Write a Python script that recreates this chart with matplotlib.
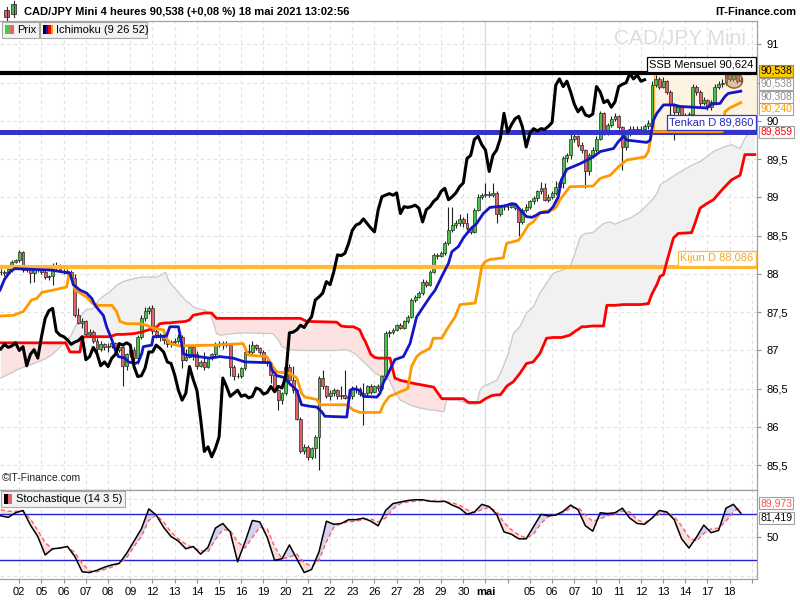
import numpy as np
import matplotlib
matplotlib.use("Agg")
import matplotlib.pyplot as plt
from matplotlib.patches import Rectangle, Ellipse

plt.rcParams['font.family'] = ['Liberation Sans', 'DejaVu Sans']

# ---------------- DATA ----------------
first_open = 88.02
closes = [88.03, 88.01, 88.06, 88.16, 88.18, 88.29, 88.05, 88.06, 88.01, 88.06,
          88.07, 88.02, 87.96, 87.97, 88.10, 88.12, 88.04, 88.03, 88.03, 87.95,
          87.47, 87.36, 87.38, 87.22, 87.24, 87.12, 87.02, 87.08, 87.04, 87.06,
          87.10, 87.00, 87.05, 86.80, 86.95, 87.01, 86.90, 87.18, 87.42, 87.52,
          87.55, 87.25, 87.20, 87.18, 87.14, 87.08, 87.11, 87.13, 87.18, 86.88,
          86.92, 87.04, 86.96, 86.80, 86.85, 86.79, 86.90, 86.95, 87.09, 87.07,
          87.10, 87.07, 86.79, 86.66, 86.67, 86.77, 86.98, 86.98, 87.07, 87.03,
          86.98, 86.85, 86.83, 86.68, 86.48, 86.35, 86.44, 86.79, 86.62, 86.48,
          86.11, 85.68, 85.74, 85.61, 85.72, 85.87, 86.64, 86.53, 86.40, 86.44,
          86.48, 86.40, 86.42, 86.38, 86.40, 86.51, 86.49, 86.43, 86.45, 86.53,
          86.46, 86.53, 86.51, 86.66, 87.23, 87.24, 87.27, 87.33, 87.30, 87.38,
          87.44, 87.66, 87.70, 87.75, 87.90, 87.86, 88.03, 88.25, 88.24, 88.27,
          88.40, 88.57, 88.64, 88.66, 88.72, 88.66, 88.60, 88.55, 88.84, 89.01,
          89.03, 89.05, 89.03, 89.06, 88.79, 88.88, 88.87, 88.88, 88.90, 88.86,
          88.68, 88.84, 88.88, 88.95, 88.99, 89.08, 89.12, 88.97, 89.01, 89.06,
          89.14, 89.19, 89.51, 89.55, 89.76, 89.80, 89.69, 89.62, 89.34, 89.55,
          89.62, 89.77, 90.10, 89.85, 89.95, 90.03, 90.06, 89.92, 89.66, 89.84,
          89.90, 89.87, 89.90, 89.89, 89.93, 89.98, 90.47, 90.55, 90.45, 90.52,
          90.38, 90.22, 90.12, 90.18, 90.08, 90.06, 90.09, 90.45, 90.38, 90.24,
          90.27, 90.18, 90.25, 90.45, 90.48, 90.50, 90.62, 90.55, 90.60, 90.52,
          90.538]
highs = [88.06, 88.05, 88.08, 88.18, 88.20, 88.31, 88.30, 88.10, 88.07, 88.08,
         88.10, 88.08, 88.09, 87.99, 88.14, 88.15, 88.13, 88.07, 88.06, 88.05,
         88.00, 87.55, 87.42, 87.40, 87.28, 87.27, 87.16, 87.12, 87.10, 87.10,
         87.13, 87.11, 87.08, 87.06, 86.97, 87.04, 87.04, 87.20, 87.47, 87.57,
         87.58, 87.59, 87.28, 87.23, 87.20, 87.17, 87.14, 87.16, 87.21, 87.20,
         87.02, 87.06, 87.07, 86.99, 86.87, 86.98, 86.92, 86.97, 87.11, 87.13,
         87.12, 87.12, 87.09, 86.81, 86.70, 86.79, 87.00, 87.09, 87.12, 87.08,
         87.05, 87.00, 86.88, 86.85, 86.70, 86.50, 86.46, 86.92, 86.82, 86.80,
         86.50, 86.13, 85.78, 85.76, 85.74, 85.90, 86.66, 86.75, 86.55, 86.48,
         86.51, 86.50, 86.53, 86.75, 86.44, 86.53, 86.55, 86.52, 86.57, 86.55,
         86.56, 86.55, 86.56, 86.68, 87.25, 87.27, 87.30, 87.35, 87.36, 87.40,
         87.46, 87.68, 87.73, 87.78, 87.93, 87.92, 88.05, 88.28, 88.28, 88.30,
         88.43, 88.88, 88.88, 88.70, 88.79, 88.74, 88.80, 88.63, 88.86, 89.04,
         89.06, 89.19, 89.08, 89.19, 89.08, 88.90, 88.92, 88.91, 88.93, 88.92,
         88.88, 88.86, 88.91, 88.97, 89.02, 89.10, 89.20, 89.19, 89.04, 89.09,
         89.21, 89.22, 89.54, 89.58, 89.86, 89.86, 89.82, 89.72, 89.64, 89.58,
         89.66, 89.80, 90.13, 90.12, 89.98, 90.06, 90.10, 90.08, 89.94, 89.87,
         89.93, 89.93, 89.93, 89.93, 89.96, 90.01, 90.52, 90.60, 90.57, 90.58,
         90.54, 90.40, 90.24, 90.21, 90.20, 90.11, 90.12, 90.48, 90.47, 90.40,
         90.31, 90.29, 90.28, 90.48, 90.52, 90.55, 90.66, 90.65, 90.64, 90.63,
         90.57]
lows = [87.99, 87.98, 88.00, 88.02, 88.14, 88.16, 88.02, 88.02, 87.88, 87.90,
        88.03, 88.00, 87.94, 87.92, 87.86, 88.05, 88.02, 88.00, 88.00, 87.93,
        87.44, 87.34, 87.30, 87.19, 87.18, 87.10, 86.98, 86.99, 87.00, 86.98,
        87.03, 86.96, 86.98, 86.53, 86.75, 86.92, 86.86, 86.82, 87.15, 87.38,
        87.48, 87.22, 87.16, 87.12, 87.08, 87.04, 87.05, 87.07, 87.10, 86.77,
        86.86, 86.90, 86.87, 86.76, 86.78, 86.74, 86.77, 86.88, 86.93, 87.04,
        87.02, 87.05, 86.66, 86.62, 86.64, 86.64, 86.75, 86.95, 86.96, 87.00,
        86.95, 86.83, 86.80, 86.57, 86.46, 86.22, 86.30, 86.42, 86.55, 86.45,
        86.09, 85.66, 85.65, 85.57, 85.58, 85.60, 85.44, 86.50, 86.38, 86.35,
        86.40, 86.37, 86.36, 86.36, 86.35, 86.37, 86.45, 86.40, 86.03, 86.42,
        86.43, 86.44, 86.47, 86.48, 86.64, 87.18, 87.22, 87.25, 87.28, 87.28,
        87.36, 87.42, 87.63, 87.68, 87.73, 87.83, 87.84, 88.01, 88.20, 88.22,
        88.25, 88.38, 88.55, 88.60, 88.63, 88.62, 88.57, 88.52, 88.53, 88.82,
        88.98, 89.00, 89.00, 89.00, 88.66, 88.76, 88.84, 88.84, 88.86, 88.83,
        88.49, 88.65, 88.81, 88.85, 88.92, 88.96, 89.05, 88.95, 88.94, 88.98,
        89.03, 89.11, 89.12, 89.47, 89.50, 89.73, 89.66, 89.58, 89.12, 89.30,
        89.52, 89.60, 89.75, 89.82, 89.82, 89.92, 90.00, 89.89, 89.36, 89.62,
        89.80, 89.84, 89.84, 89.85, 89.85, 89.90, 89.95, 90.44, 90.42, 90.43,
        90.35, 90.05, 89.75, 90.08, 90.04, 90.02, 90.03, 90.06, 90.34, 90.20,
        90.21, 90.14, 90.15, 90.22, 90.42, 90.45, 90.47, 90.52, 90.52, 90.49,
        90.49]

tenkan_x = [-0.2, 1, 2.5, 3.8, 13.8, 18.7, 19.6, 21.4, 23.2, 24.6, 25.5, 26.8, 27.7, 28.6, 30.0,
            30.9, 31.8, 33.6, 34.5, 36.3, 37.2, 38.1, 38.5, 40.8, 41.2, 44.8, 45.7, 48.0, 48.4,
            49.3, 50.2, 56.5, 59.2, 62.8, 66, 72.8, 73.2, 74.6, 76.4, 78.2, 80, 81.3, 83.6, 85.4,
            86.7, 87.6, 93.5, 94.4, 95.3, 97, 98, 101.6, 102.5, 103.4, 104.3, 106.5, 108.8, 110.6,
            112.4, 114.2, 116, 117.4, 119.2, 121, 121.9, 123.7, 125, 126.8, 128.6, 130.4, 132.2,
            136.3, 138.1, 139.2, 140.3, 142.1, 143.5, 144.8, 145.7, 148, 149.3, 150.7, 151.5, 153,
            156.5, 160.1, 162, 165.6, 166.9, 168.3, 169.2, 174.6, 175.5, 176.4, 177.3, 179.1,
            181.8, 183.6, 190.8, 192.1, 194.4, 195.7, 196.6, 200]
tenkan_y = [87.79, 87.93, 88.03, 88.07, 88.05, 88.01, 87.86, 87.79, 87.75, 87.68, 87.59, 87.51,
            87.46, 87.31, 87.14, 87.01, 86.92, 86.90, 86.85, 86.83, 86.85, 86.96, 87.05, 87.07,
            87.18, 87.19, 87.31, 87.31, 87.22, 86.96, 86.94, 86.90, 86.92, 86.90, 86.85, 86.84,
            86.75, 86.67, 86.65, 86.56, 86.48, 86.29, 86.27, 86.26, 86.20, 86.14, 86.13, 86.48,
            86.50, 86.48, 86.40, 86.39, 86.44, 86.58, 86.66, 86.88, 86.92, 87.09, 87.44, 87.57,
            87.70, 87.79, 87.97, 88.14, 88.29, 88.36, 88.47, 88.58, 88.66, 88.79, 88.87, 88.89,
            88.92, 88.91, 88.84, 88.75, 88.74, 88.77, 88.80, 88.81, 88.88, 89.01, 89.23, 89.37,
            89.44, 89.53, 89.60, 89.64, 89.73, 89.80, 89.75, 89.72, 89.75, 90.01, 90.10, 90.21,
            90.21, 90.19, 90.17, 90.22, 90.23, 90.32, 90.36, 90.39]

kijun_x = [-0.2, 3.4, 6.1, 8.3, 9.7, 11.1, 14.2, 17.8, 18.5, 19.0, 20.1, 23.2, 24.6, 26.4, 30,
           31.3, 32.2, 34, 37.6, 39.4, 41.2, 44, 44.8, 45.7, 48.4, 57.4, 65.5, 66.9, 71.9, 73.2,
           74.6, 78.2, 80, 81.3, 82.2, 85.4, 86.3, 93.5, 95.3, 97.1, 102.5, 103.5, 105, 106.1,
           107.9, 110, 111.0, 112.4, 113.3, 116.0, 116.9, 119.2, 120.5, 122.8, 124.1, 128.2,
           129.1, 130.0, 130.9, 132.2, 135.8, 136.7, 139.9, 141.2, 142.6, 143.9, 145.3, 146.2,
           149.3, 150.2, 151.1, 153.8, 160.1, 162, 164.7, 166.9, 169.2, 174.1, 175, 176, 195,
           195.7, 197, 200]
kijun_y = [87.45, 87.46, 87.51, 87.66, 87.68, 87.76, 87.79, 87.83, 88.01, 87.99, 87.79, 87.70,
           87.62, 87.59, 87.59, 87.51, 87.38, 87.35, 87.35, 87.33, 87.29, 87.27, 87.16, 87.09,
           87.06, 87.07, 87.09, 86.94, 86.92, 86.81, 86.72, 86.70, 86.64, 86.44, 86.39, 86.36,
           86.29, 86.29, 86.22, 86.19, 86.19, 86.30, 86.40, 86.42, 86.46, 86.50, 86.79, 86.92,
           86.96, 87.03, 87.16, 87.16, 87.27, 87.44, 87.60, 87.62, 87.84, 88.10, 88.16, 88.19,
           88.21, 88.40, 88.44, 88.53, 88.64, 88.68, 88.77, 88.81, 88.84, 88.88, 88.97, 89.14,
           89.15, 89.25, 89.29, 89.40, 89.49, 89.53, 89.60, 89.86, 89.86, 90.12, 90.17, 90.24]

cloud_x = [0, 3, 5, 9, 12, 14, 16, 17.5, 18, 18.7, 20, 21.4, 22, 23, 25, 26.5, 28, 29.5, 31.3, 33,
           36, 38, 42, 43, 44.5, 45.5, 47.5, 50, 51, 52, 53, 55, 56.5, 57, 57.5, 58.3, 59.5, 62.5,
           66, 73.5, 75, 76, 77.5, 81, 82.7, 90.8, 92, 93.5, 95.3, 96.2, 97, 98, 98.5, 100, 101,
           102, 104, 105.2, 106.5, 108, 111.5, 116, 117, 119.2, 119.8, 120.5, 123, 125, 126.4,
           128.6, 129.5, 130.4, 131, 132.7, 134, 135, 135.8, 136.7, 137.2, 138.5, 140.3, 142.1,
           143.9, 145.7, 147.5, 149.3, 151.6, 153.8, 155.2, 156.5, 157, 158, 160, 162.9, 163.8,
           164.7, 166, 168.3, 170.1, 172.8, 174.6, 175, 175.9, 177.3, 178.2, 179.1, 180, 181.8,
           183.1, 186.7, 187.6, 189, 190.8, 192.6, 195.3, 197.5, 199.8, 201.1, 202.5, 203.8]
senkou_a = [86.64, 86.71, 86.76, 86.83, 86.89, 86.95, 87.04, 87.12, 87.14, 87.17, 87.30, 87.42,
            87.47, 87.53, 87.55, 87.66, 87.72, 87.77, 87.85, 87.90, 87.94, 87.96, 87.96, 87.98,
            88.02, 87.90, 87.79, 87.65, 87.62, 87.57, 87.55, 87.53, 87.49, 87.42, 87.36, 87.22,
            87.20, 87.22, 87.23, 87.22, 87.14, 87.05, 87.01, 87.00, 87.00, 87.00, 87.01, 87.01,
            86.97, 86.94, 86.90, 86.85, 86.83, 86.76, 86.71, 86.68, 86.66, 86.60, 86.45, 86.35,
            86.27, 86.22, 86.22, 86.20, 86.20, 86.35, 86.35, 86.33, 86.30, 86.29, 86.48, 86.53,
            86.54, 86.58, 86.61, 86.70, 86.79, 86.90, 86.96, 87.22, 87.31, 87.49, 87.57, 87.75,
            87.88, 88.01, 88.05, 88.09, 88.27, 88.47, 88.50, 88.53, 88.54, 88.66, 88.67, 88.68,
            88.65, 88.70, 88.73, 88.81, 88.90, 88.92, 88.96, 89.05, 89.16, 89.20, 89.22, 89.28,
            89.32, 89.42, 89.44, 89.47, 89.53, 89.60, 89.66, 89.69, 89.64, 89.77, 89.86, 89.88]
senkou_b = [87.10, 87.10, 87.10, 87.10, 87.10, 87.10, 87.10, 87.10, 87.05, 86.98, 86.98, 86.98,
            87.17, 87.18, 87.18, 87.18, 87.18, 87.18, 87.21, 87.21, 87.22, 87.24, 87.30, 87.35,
            87.36, 87.36, 87.37, 87.38, 87.40, 87.46, 87.47, 87.49, 87.49, 87.49, 87.46, 87.42,
            87.42, 87.42, 87.42, 87.42, 87.42, 87.42, 87.42, 87.42, 87.38, 87.37, 87.32, 87.31,
            87.31, 87.29, 87.27, 87.16, 87.12, 86.95, 86.91, 86.90, 86.90, 86.90, 86.64, 86.61,
            86.57, 86.53, 86.52, 86.37, 86.37, 86.37, 86.37, 86.37, 86.32, 86.32, 86.32, 86.35,
            86.37, 86.41, 86.42, 86.42, 86.47, 86.53, 86.55, 86.59, 86.70, 86.83, 86.85, 86.96,
            87.16, 87.17, 87.17, 87.20, 87.25, 87.29, 87.31, 87.31, 87.32, 87.32, 87.59, 87.59,
            87.59, 87.60, 87.60, 87.60, 87.61, 87.61, 87.73, 87.86, 87.97, 87.99, 88.16, 88.47,
            88.53, 88.54, 88.66, 88.86, 88.92, 88.97, 89.12, 89.23, 89.29, 89.56, 89.56, 89.56]

stoch_x = list(range(0, 201, 2))
stoch_k = [78, 76, 82, 85, 66, 51, 27, 35, 36, 38,
           25, 5, 4, 7, 11, 14, 16, 29, 45, 61,
           87, 79, 63, 51, 45, 35, 38, 28, 37, 62,
           68, 57, 18, 44, 72, 70, 50, 20, 22, 40,
           22, 4, 8, 31, 71, 67, 68, 73, 73, 75,
           71, 65, 85, 94, 96, 98, 99, 99, 97, 96.5,
           97, 92, 88, 80, 83, 93, 90, 80, 57, 54,
           48, 48, 64, 80, 78, 79, 84, 92, 86, 65,
           58, 82, 81, 82, 88, 75, 68, 67, 75, 85,
           83, 73, 48, 36, 50, 66, 56, 59, 88, 93,
           81.419]
stoch_d = [86, 84, 84, 84, 74, 59, 43, 35, 36, 38,
           30, 16, 6, 5, 8, 11, 16, 23, 38, 51,
           72, 79, 70, 57, 48, 41, 36, 33, 31, 47,
           60, 59, 44, 36, 50, 63, 61, 38, 22, 24,
           28, 17, 12, 20, 44, 63, 68, 70, 71, 73,
           74, 70, 75, 87, 94, 96, 97, 98, 97.5, 97,
           96.5, 95, 92, 86, 82, 86, 89, 84, 69, 60,
           53, 49, 54, 68, 77, 80, 82, 88, 89, 79,
           71, 74, 78, 80, 84, 83, 73, 69, 75, 80,
           82.6, 77, 65, 50, 45, 55, 61, 62, 71, 83,
           89.973]

day_labels = ['02', '05', '06', '07', '08', '09', '12', '13', '14', '15', '16', '19', '20',
              '21', '22', '23', '26', '27', '28', '29', '30', 'mai', '', '05', '06', '07',
              '10', '11', '12', '13', '14', '17', '18', '']
bars_per_day = 6
first_full_day_bar = 5

ssb_monthly = 90.624
tenkan_daily = 89.860
kijun_daily = 88.086
last_price = 90.538

# ---------------- FIGURE ----------------
W, H = 800, 600
fig = plt.figure(figsize=(8, 6), dpi=100)
fig.patch.set_facecolor('white')

def fy(py):
    return 1 - py / H

XL = (-0.216, 204.38)
ax = fig.add_axes([0, fy(490), 757 / W, (490 - 21) / H])
axs = fig.add_axes([0, fy(579), 757 / W, (579 - 490) / H])

n = len(closes)
idx = np.arange(n)
c = np.array(closes)
o = np.array([first_open] + closes[:-1])
hi = np.array(highs)
lo = np.array(lows)

tick_pos = [first_full_day_bar + bars_per_day * k for k in range(len(day_labels))]
grid_kw = dict(color='#e2e2e2', lw=0.8, ls=(0, (3, 3)), zorder=0.3)

for a in (ax, axs):
    a.set_xlim(*XL)
    for t, lab in zip(tick_pos, day_labels):
        if lab == 'mai':
            a.axvline(t, color='#dcdcdc', lw=1.0, zorder=0.3)
        else:
            a.axvline(t, **grid_kw)
    a.spines['left'].set_visible(False)
    for s in ('right', 'top', 'bottom'):
        a.spines[s].set_color('#a0a0a0')
        a.spines[s].set_linewidth(0.9)

# main grid
ylo, yhi = 85.176, 91.307
ax.set_ylim(ylo, yhi)
yt = np.arange(85.5, 91.01, 0.5)
for v in yt:
    ax.axhline(v, **grid_kw)

# peach zone
ax.add_patch(Rectangle((176.6, tenkan_daily), XL[1] - 176.6, ssb_monthly - tenkan_daily,
                       facecolor='#fdf3e2', edgecolor='none', zorder=0.5))
ax.plot([176.6, 176.6], [tenkan_daily, ssb_monthly], color='#ffb040', lw=0.9, zorder=0.6)

# cloud
sa = np.array(senkou_a)
sb = np.array(senkou_b)
ax.fill_between(cloud_x, sa, sb, where=sa >= sb, interpolate=True,
                facecolor='#f1f1f1', edgecolor='none', zorder=1)
ax.fill_between(cloud_x, sa, sb, where=sa < sb, interpolate=True,
                facecolor='#fde2e2', edgecolor='none', zorder=1)
ax.plot(cloud_x, senkou_a, color='#c8c8c8', lw=0.9, zorder=1.2)

# candles
ax.vlines(idx, lo, hi, color='#202020', lw=0.8, zorder=3)
up = c >= o
body = np.maximum(np.abs(c - o), 0.008)
ax.bar(idx, body, bottom=np.minimum(o, c), width=0.76,
       color=np.where(up, '#44c844', '#e66262'), edgecolor='#2a2a2a', linewidth=0.5, zorder=3.1)

ax.add_patch(Ellipse((198.2, 90.53), 4.6, 0.2, facecolor=(0.72, 0.52, 0.35, 0.45),
                     edgecolor='#9a5a2a', lw=1.0, zorder=3.5))

# level lines
ax.axhline(ssb_monthly, color='black', lw=3, zorder=4)
ax.axhline(tenkan_daily, color='#3434c8', lw=3.6, zorder=4)
ax.axhline(kijun_daily, color='#ffb833', lw=3, zorder=4)

# ichimoku lines
ax.plot(cloud_x, senkou_b, color='#ff0000', lw=2, zorder=4.5)
ax.plot(kijun_x, kijun_y, color='#ff9900', lw=2, zorder=4.6)
ax.plot(tenkan_x, tenkan_y, color='#1515c8', lw=2, zorder=4.7)
ax.plot(idx[:-26], c[26:], color='black', lw=2.2, zorder=4.8)

# level labels
yax = ax.get_yaxis_transform()
def level_label(val, text, ec, tc):
    ax.annotate(text, xy=(1, val), xycoords=yax, xytext=(-2.5, 3.0), textcoords='offset points',
                ha='right', va='bottom', fontsize=8, color=tc, zorder=7,
                bbox=dict(boxstyle='square,pad=0.22', fc='white', ec=ec, lw=0.9))
level_label(ssb_monthly, 'SSB Mensuel 90,624', 'black', 'black')
level_label(tenkan_daily, 'Tenkan D 89,860', '#3434c8', '#2525c0')
level_label(kijun_daily, 'Kijun D 88,086', '#ffb833', '#f5a623')

# watermark and copyright
ax.text(0.898, 0.962, 'CAD/JPY Mini', transform=ax.transAxes, fontsize=15,
        color='#dedede', ha='center', va='center', zorder=0.4)
ax.text(0.003, 0.015, '©IT-Finance.com', transform=ax.transAxes, fontsize=7.5,
        color='#202020', ha='left', va='bottom', zorder=6)

# right axis (the 90,5 label is covered by value boxes in the original)
ax.yaxis.tick_right()
ax.set_yticks(yt)
ax.set_yticklabels(['' if abs(v - 90.5) < 1e-9 else ('%g' % v).replace('.', ',') for v in yt])
ax.tick_params(axis='y', direction='out', length=3, color='#909090', labelsize=8, pad=4)
ax.tick_params(axis='x', length=0, labelbottom=False)

def price_y(py):
    return 91 - (py - 44.5) / 76.5

def val_label(axis, yv, text, fc, tc, ec='#a0a0a0', z=8):
    axis.text(1.004, yv, text, transform=axis.get_yaxis_transform(), ha='left', va='center',
              fontsize=7.5, color=tc, clip_on=False, zorder=z,
              bbox=dict(boxstyle='square,pad=0.13', fc=fc, ec=ec, lw=0.8))

val_label(ax, price_y(71), '90,538', '#ffcc00', 'black', ec='#b09000', z=9)
val_label(ax, price_y(84), '90,538', 'white', '#909090', z=7)
val_label(ax, price_y(97), '90,308', 'white', '#8a8a8a', z=7.5)
val_label(ax, price_y(109), '90,240', 'white', '#ff9900', z=8)
val_label(ax, price_y(132), '89,859', 'white', '#ff0000', z=8)

# ---------------- STOCHASTIC ----------------
axs.set_ylim(-4.4, 111.7)
for v in (0, 50, 100):
    axs.axhline(v, **grid_kw)
k = np.array(stoch_k, dtype=float)
d = np.array(stoch_d, dtype=float)
axs.fill_between(stoch_x, k, d, where=k >= d, interpolate=True, facecolor='#d2d2f2',
                 edgecolor='none', zorder=1)
axs.fill_between(stoch_x, k, d, where=k < d, interpolate=True, facecolor='#f9dede',
                 edgecolor='none', zorder=1)
axs.axhline(80, color='#2020d8', lw=1, zorder=2)
axs.axhline(20, color='#2020d8', lw=1, zorder=2)
axs.plot(stoch_x, d, color='#ff6060', lw=1, ls=(0, (3, 2)), zorder=3)
axs.plot(stoch_x, k, color='black', lw=1.1, zorder=4)

axs.yaxis.tick_right()
axs.set_yticks([50])
axs.set_yticklabels(['50'])
axs.tick_params(axis='y', direction='out', length=3, color='#909090', labelsize=8, pad=4)
axs.set_xticks(tick_pos)
axs.set_xticklabels(day_labels)
for lab in axs.get_xticklabels():
    if lab.get_text() == 'mai':
        lab.set_fontweight('bold')
axs.tick_params(axis='x', direction='out', length=3, color='#909090', labelsize=8, pad=3)

val_label(axs, 94.7, '89,973', 'white', '#ff5050', z=8)
val_label(axs, 75.2, '81,419', 'white', 'black', z=9)

# ---------------- HEADER / LEGENDS ----------------
def frect(x0, y0, x1, y1, **kw):
    fig.add_artist(Rectangle((x0 / W, fy(y1)), (x1 - x0) / W, (y1 - y0) / H,
                             transform=fig.transFigure, **kw))

def fline(x0, y0, x1, y1, **kw):
    fig.add_artist(plt.Line2D([x0 / W, x1 / W], [fy(y0), fy(y1)], transform=fig.transFigure, **kw))

# header candle icon
fline(6.5, 7, 6.5, 20, color='#333333', lw=0.8)
frect(4, 10, 9, 17, facecolor='#e46464', edgecolor='#333333', lw=0.6)
fline(13.5, 1, 13.5, 17, color='#333333', lw=0.8)
frect(11, 4, 16, 14, facecolor='#49c449', edgecolor='#333333', lw=0.6)

fig.text(24 / W, fy(12), 'CAD/JPY Mini 4 heures 90,538 (+0,08 %) 18 mai 2021 13:02:56',
         fontsize=8, fontweight='bold', va='center', ha='left')
fig.text(796 / W, fy(12), 'IT-Finance.com', fontsize=8, fontweight='bold', va='center', ha='right')

# legend boxes
frect(2, 22, 38.5, 37.5, facecolor='#f2f2f2', edgecolor='#a8a8a8', lw=0.8, zorder=5)
frect(5, 25, 9.5, 34, facecolor='#44cc44', edgecolor='none', zorder=6)
frect(9.5, 25, 14, 34, facecolor='#e46464', edgecolor='none', zorder=6)
fig.text(17 / W, fy(30), 'Prix', fontsize=8, va='center', ha='left', zorder=7)

frect(39.5, 22, 147, 37.5, facecolor='#f2f2f2', edgecolor='#a8a8a8', lw=0.8, zorder=5)
for x0, col in zip([43, 45.5, 48, 50.5], ['#000000', '#1515c8', '#ff0000', '#ff9900']):
    frect(x0, 25, x0 + 2.5, 34, facecolor=col, edgecolor='none', zorder=6)
fig.text(56 / W, fy(30), 'Ichimoku (9 26 52)', fontsize=8, va='center', ha='left', zorder=7)

frect(1, 491, 125, 507, facecolor='#f2f2f2', edgecolor='#a8a8a8', lw=0.8, zorder=5)
frect(4, 494, 8, 504, facecolor='#000000', edgecolor='none', zorder=6)
frect(8, 494, 12, 504, facecolor='#e46464', edgecolor='none', zorder=6)
fig.text(16 / W, fy(499), 'Stochastique (14 3 5)', fontsize=8, va='center', ha='left', zorder=7)

fig.savefig('out.png', dpi=100)
